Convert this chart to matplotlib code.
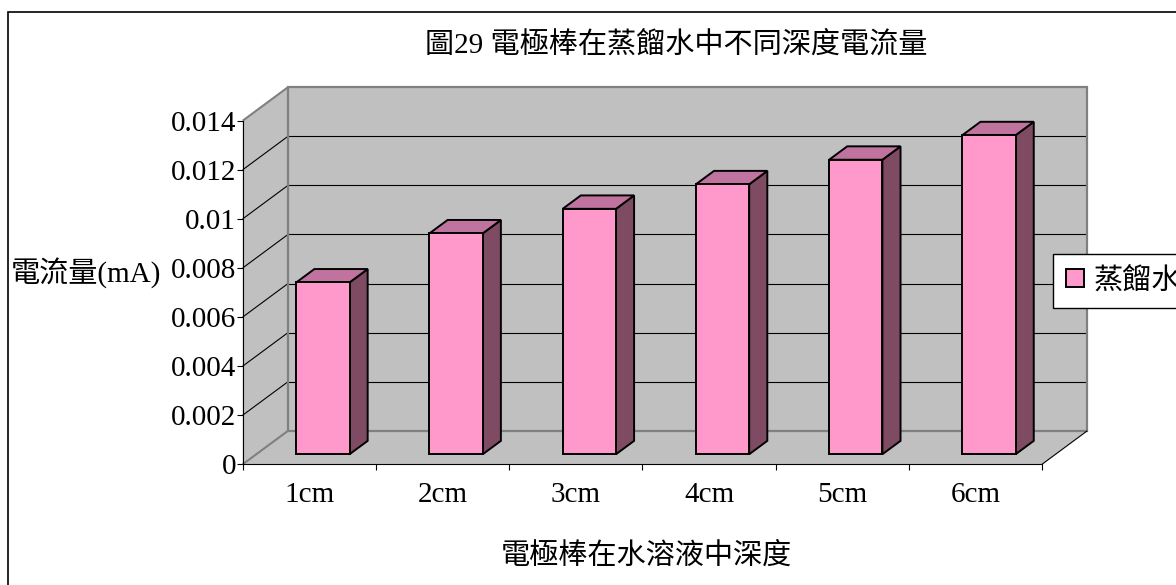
import matplotlib
matplotlib.use("Agg")
import matplotlib.pyplot as plt
from matplotlib.patches import Polygon, Rectangle
from matplotlib.lines import Line2D

# ---- data ----
categories = ['1cm', '2cm', '3cm', '4cm', '5cm', '6cm']
current_ma = [0.007, 0.009, 0.010, 0.011, 0.012, 0.013]
y_ticks = [0, 0.002, 0.004, 0.006, 0.008, 0.010, 0.012, 0.014]
y_tick_labels = ['0', '0.002', '0.004', '0.006', '0.008', '0.01', '0.012', '0.014']
series_name = '蒸餾水'
title_text = '圖29 電極棒在蒸餾水中不同深度電流量'
x_label = '電極棒在水溶液中深度'
y_label = '電流量(mA)'

plt.rcParams['font.family'] = ['Liberation Serif', 'Noto Sans CJK TC']

# ---- colours ----
WALL = '#C0C0C0'
WALL_EDGE = '#808080'
FRONT = '#FF99CC'
TOP = '#C0739E'
SIDE = '#7F4B62'
FS = 21

W, H = 1176, 585
fig = plt.figure(figsize=(W / 100, H / 100), dpi=100)

# front plane of the plot box (pixels from the top-left corner)
X0, X1, Y0, Y1 = 242.7, 1042.0, 464.3, 120.7
ax = fig.add_axes([X0 / W, 1 - Y0 / H, (X1 - X0) / W, (Y0 - Y1) / H])
n = len(categories)
ymax = y_ticks[-1]
ax.set_xlim(0, n)
ax.set_ylim(0, ymax)
ax.patch.set_visible(False)

# depth of the 3-D box, converted to data units
DX = 45.3 / ((X1 - X0) / n)
DY = 33.5 / ((Y0 - Y1) / ymax)


def P(x, y, d):
    """Point on the plane at depth fraction d (0 = front, 1 = back)."""
    return (x + d * DX, y + d * DY)


def poly(pts, fc, ec='none', lw=0, z=1):
    ax.add_patch(Polygon(pts, closed=True, facecolor=fc, edgecolor=ec,
                         linewidth=lw, zorder=z, clip_on=False,
                         joinstyle='miter'))


def seg(a, b, color, lw, z=1.5):
    ax.add_line(Line2D([a[0], b[0]], [a[1], b[1]], color=color, lw=lw,
                       zorder=z, clip_on=False, solid_capstyle='butt'))


# walls and floor
poly([P(0, 0, 1), P(n, 0, 1), P(n, ymax, 1), P(0, ymax, 1)], WALL)
poly([P(0, 0, 0), P(0, 0, 1), P(0, ymax, 1), P(0, ymax, 0)], WALL)
poly([P(0, 0, 0), P(n, 0, 0), P(n, 0, 1), P(0, 0, 1)], WALL)

# gridlines on back and side walls
for t in y_ticks[1:-1]:
    seg(P(0, t, 1), P(n, t, 1), '#000000', 0.8)
    seg(P(0, t, 0), P(0, t, 1), '#000000', 0.8)

# wall edges
poly([P(0, 0, 1), P(n, 0, 1), P(n, ymax, 1), P(0, ymax, 1)], 'none',
     ec=WALL_EDGE, lw=1.6, z=1.6)
seg(P(0, ymax, 0), P(0, ymax, 1), WALL_EDGE, 1.5, 1.6)
seg(P(0, 0, 0), P(0, 0, 1), WALL_EDGE, 1.5, 1.6)
seg(P(n, 0, 0), P(n, 0, 1), '#000000', 0.8, 1.6)

# bars: front faces through ax.bar, top and side faces as polygons
d0, d1 = 0.3, 0.7
bw = 0.4
xs = [i + 0.5 for i in range(n)]
bars = ax.bar([x + d0 * DX for x in xs], current_ma, width=bw,
              bottom=d0 * DY, color=FRONT, edgecolor='black', linewidth=1.4,
              zorder=5, label=series_name)
for x, v in zip(xs, current_ma):
    xl, xr = x - bw / 2, x + bw / 2
    poly([P(xr, 0, d0), P(xr, 0, d1), P(xr, v, d1), P(xr, v, d0)], SIDE,
         ec='black', lw=1.4, z=4)
    poly([P(xl, v, d0), P(xr, v, d0), P(xr, v, d1), P(xl, v, d1)], TOP,
         ec='black', lw=1.4, z=4)

# axes, ticks and labels
for s in ('top', 'right'):
    ax.spines[s].set_visible(False)
for s in ('left', 'bottom'):
    ax.spines[s].set_color('black')
    ax.spines[s].set_linewidth(0.8)
    ax.spines[s].set_zorder(3)

ax.set_yticks(y_ticks)
ax.set_yticklabels(y_tick_labels)
ax.tick_params(axis='y', direction='out', length=4.3, width=0.8, pad=0.5,
               labelsize=FS)
ax.set_xticks(xs)
ax.set_xticklabels(categories)
ax.set_xticks(range(n + 1), minor=True)
ax.tick_params(axis='x', which='major', length=0, pad=13, labelsize=FS)
ax.tick_params(axis='x', which='minor', direction='out', length=4.3,
               width=0.8)

fig.text(676 / W, 1 - 45 / H, title_text, ha='center', va='center',
         fontsize=FS)
fig.text(646 / W, 1 - 556 / H, x_label, ha='center', va='center',
         fontsize=FS)
fig.text(11 / W, 1 - 273 / H, y_label, ha='left', va='center', fontsize=FS)

# legend
leg = fig.legend(handles=[bars], labels=[series_name], loc='upper left',
                 bbox_to_anchor=(1053 / W, 1 - 254 / H),
                 bbox_transform=fig.transFigure, frameon=True, fancybox=False,
                 edgecolor='black', framealpha=1, borderaxespad=0,
                 borderpad=0.45, handlelength=0.6, handleheight=0.6,
                 handletextpad=0.35, fontsize=FS)
leg.get_frame().set_linewidth(1.0)

# outer chart border
fig.add_artist(Rectangle((7.5 / W, -0.1), 1.2, 1 - 12 / H + 0.1,
                         transform=fig.transFigure, fill=False,
                         edgecolor='black', linewidth=1.2))

fig.savefig('out.png', dpi=100)
